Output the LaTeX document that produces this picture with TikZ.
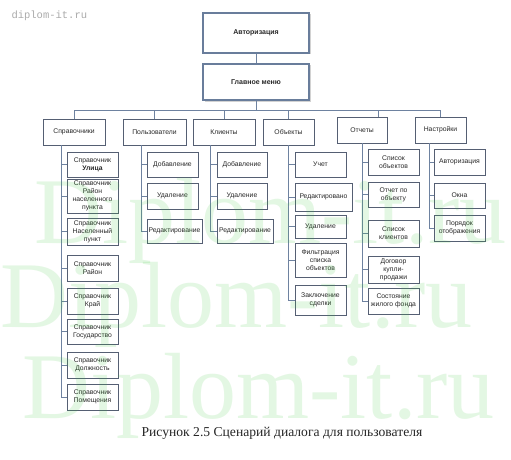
\documentclass[tikz,border=0pt]{standalone}
\usepackage{fontspec}
\setmainfont{Liberation Sans}
\newfontfamily\capfont{Liberation Serif}
\newfontfamily\wmfont{Liberation Mono}
\usetikzlibrary{shadows}
\definecolor{bordc}{RGB}{85,95,115}
\definecolor{topc}{RGB}{105,125,155}
\definecolor{connc}{RGB}{110,130,160}
\definecolor{txtc}{RGB}{40,40,40}
\definecolor{wmgreen}{RGB}{60,200,60}
\tikzset{
  topbox/.style={draw=topc, line width=1.6pt, fill=white, minimum width=106pt, inner sep=1pt,
     font=\fontsize{7}{8.5}\selectfont\bfseries, text=txtc,
     drop shadow={shadow xshift=1.5pt, shadow yshift=-1.5pt, fill=black!35}},
  lvbox/.style={draw=bordc, line width=0.6pt, fill=white, inner sep=1pt, align=center,
     font=\fontsize{6.8}{8}\selectfont, text=txtc, minimum height=26pt,
     drop shadow={shadow xshift=1pt, shadow yshift=-1pt, fill=black!18}},
  conn/.style={draw=connc, line width=0.8pt},
  wmark/.style={anchor=base west, font=\capfont\fontsize{94}{96}\selectfont, text=wmgreen, inner sep=0},
}
\begin{document}
\begin{tikzpicture}[x=1pt,y=-1pt]
\useasboundingbox (0,0) rectangle (511,460);
\fill[white] (0,0) rectangle (511,460);
\node[anchor=west, font=\wmfont\fontsize{10.5}{12}\selectfont, text=black!33] (wm) at (8,16) {diplom-it.ru};

% top
\node[topbox, minimum height=40pt] (auth) at (256,33) {Авторизация};
\node[topbox, minimum height=36pt] (menu) at (256,82) {Главное меню};

% level 2
\node[lvbox, minimum width=62pt] (spr) at (74,132) {Справочники};
\node[lvbox, minimum width=63pt] (pol) at (154.5,132) {Пользователи};
\node[lvbox, minimum width=62pt] (kli) at (224,132) {Клиенты};
\node[lvbox, minimum width=51pt] (obj) at (288.5,132) {Объекты};
\node[lvbox, minimum width=50pt] (otc) at (362,130) {Отчеты};
\node[lvbox, minimum width=51pt] (nas) at (440.5,130) {Настройки};

% Справочники children
\node[lvbox, minimum width=51pt, minimum height=25pt] (s1) at (92.5,164.5) {Справочник\\\textbf{Улица}};
\node[lvbox, minimum width=51pt, minimum height=34pt] (s2) at (92.5,196) {Справочник\\Район\\населенного\\пункта};
\node[lvbox, minimum width=51pt, minimum height=27pt] (s3) at (92.5,231.5) {Справочник\\Населенный\\пункт};
\node[lvbox, minimum width=51pt] (s4) at (92.5,268) {Справочник\\Район};
\node[lvbox, minimum width=51pt] (s5) at (92.5,301) {Справочник\\Край};
\node[lvbox, minimum width=51pt, minimum height=25pt] (s6) at (92.5,331.5) {Справочник\\Государство};
\node[lvbox, minimum width=51pt] (s7) at (92.5,365) {Справочник\\Должность};
\node[lvbox, minimum width=51pt] (s8) at (92.5,397) {Справочник\\Помещения};

% Пользователи children
\node[lvbox, minimum width=51pt, minimum height=25pt] (p1) at (172.5,164.5) {Добавление};
\node[lvbox, minimum width=51pt] (p2) at (172.5,196) {Удаление};
\node[lvbox, minimum width=55pt, minimum height=24pt] (p3) at (174.5,231) {Редактирование};

% Клиенты children
\node[lvbox, minimum width=50pt, minimum height=25pt] (k1) at (242,164.5) {Добавление};
\node[lvbox, minimum width=50pt] (k2) at (242,196) {Удаление};
\node[lvbox, minimum width=56pt, minimum height=24pt] (k3) at (245,231) {Редактирование};

% Объекты children
\node[lvbox, minimum width=51pt, minimum height=25pt] (o1) at (320.5,164.5) {Учет};
\node[lvbox, minimum width=57pt, minimum height=28pt] (o2) at (323.5,197) {Редактировано};
\node[lvbox, minimum width=51pt, minimum height=23pt] (o3) at (320.5,226.5) {Удаление};
\node[lvbox, minimum width=51pt, minimum height=34pt] (o4) at (320.5,260) {Фильтрация\\списка\\объектов};
\node[lvbox, minimum width=51pt, minimum height=30pt] (o5) at (320.5,300) {Заключение\\сделки};

% Отчеты children
\node[lvbox, minimum width=51pt] (r1) at (393.5,162) {Список\\объектов};
\node[lvbox, minimum width=51pt, minimum height=25pt] (r2) at (393.5,194.5) {Отчет по\\объекту};
\node[lvbox, minimum width=51pt, minimum height=27pt] (r3) at (393.5,233.5) {Список\\клиентов};
\node[lvbox, minimum width=51pt, minimum height=27pt] (r4) at (393.5,269.5) {Договор\\купли-\\продажи};
\node[lvbox, minimum width=51pt] (r5) at (393.5,301) {Состояние\\жилого фонда};

% Настройки children
\node[lvbox, minimum width=51pt] (n1) at (459.5,162) {Авторизация};
\node[lvbox, minimum width=51pt, minimum height=25pt] (n2) at (459.5,195.5) {Окна};
\node[lvbox, minimum width=51pt] (n3) at (459.5,228) {Порядок\\отображения};

% connectors top
\draw[conn] (auth) -- (menu);
\coordinate (bus) at (256,110);
\coordinate (otcTop) at (378,117);
\draw[conn] (menu.south) -- (bus);
\draw[conn] (bus) -| (spr.north);
\draw[conn] (bus) -| (pol.north);
\draw[conn] (bus) -| (kli.north);
\draw[conn] (bus) -| (obj.north);
\draw[conn] (bus) -| (otcTop);
\draw[conn] (bus) -| (nas.north);

% spines
\coordinate (sprS) at (61,145);
\foreach \c in {s1,s2,s3,s4,s5,s6,s7,s8} \draw[conn] (sprS) |- (\c.west);
\coordinate (polS) at (141,145);
\foreach \c in {p1,p2,p3} \draw[conn] (polS) |- (\c.west);
\coordinate (kliS) at (210,145);
\foreach \c in {k1,k2,k3} \draw[conn] (kliS) |- (\c.west);
\coordinate (objS) at (288,145);
\foreach \c in {o1,o2,o3,o4,o5} \draw[conn] (objS) |- (\c.west);
\coordinate (otcS) at (362,143);
\foreach \c in {r1,r2,r3,r4,r5} \draw[conn] (otcS) |- (\c.west);
\coordinate (nasS) at (429,143);
\foreach \c in {n1,n2,n3} \draw[conn] (nasS) |- (\c.west);

% caption
\node[font=\capfont\fontsize{13.6}{15}\selectfont, text=black!85] (cap) at (282,433) {Рисунок 2.5 Сценарий диалога для пользователя};

% large watermark
\begin{scope}[opacity=0.14]
\node[wmark] (w1) at (34,243) {Diplom-it.ru};
\node[wmark] (w2) at (0,327) {Diplom-it.ru};
\node[wmark] (w3) at (22,418) {Diplom-it.ru};
\end{scope}
\end{tikzpicture}
\end{document}
